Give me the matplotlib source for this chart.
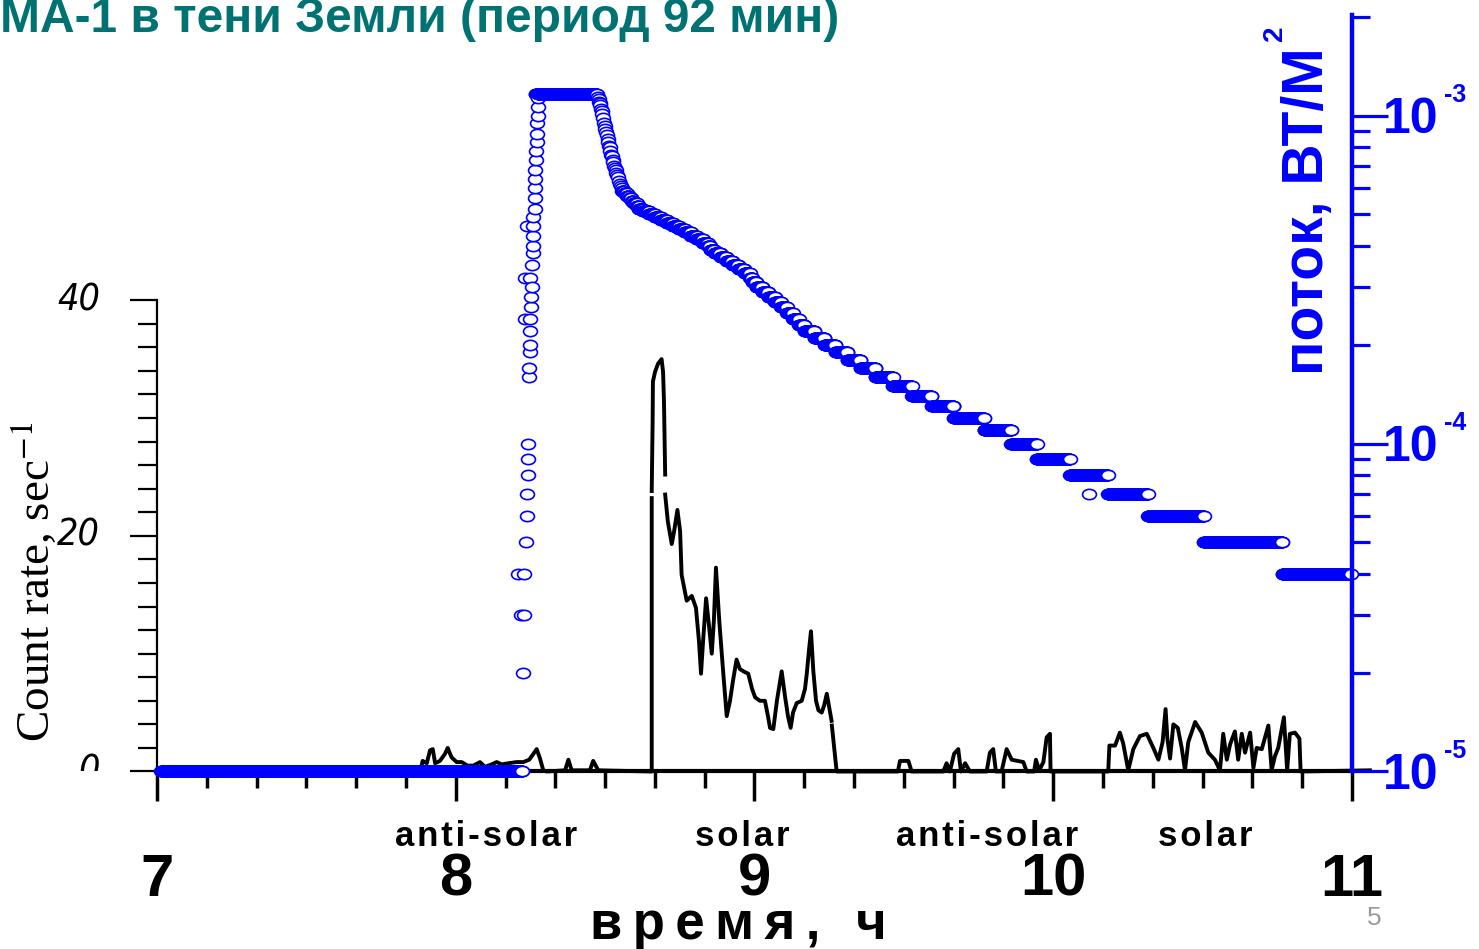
import numpy as np
import matplotlib
matplotlib.use("Agg")
import matplotlib.pyplot as plt
from matplotlib import font_manager
from matplotlib.path import Path
from matplotlib.ticker import FixedLocator, LogLocator, NullFormatter
from matplotlib.transforms import Affine2D, Bbox, TransformedBbox, blended_transform_factory

plt.rcParams["mathtext.fontset"] = "stix"

TEAL = "#007272"
BLUE = "#0000ff"
SANS = ["Liberation Sans", "DejaVu Sans"]

# pick a narrow sans for the count axis numbers if one is installed
_fonts = font_manager.fontManager.ttflist
if any(f.name == "Liberation Sans Narrow" for f in _fonts):
    NARROW = dict(family=["Liberation Sans Narrow", "DejaVu Sans"])
elif any(f.name == "DejaVu Sans" and f.stretch == "condensed" for f in _fonts):
    NARROW = dict(family=["DejaVu Sans"], fontstretch="condensed")
else:
    NARROW = dict(family=SANS)

# count rate trace: (time, h; counts per second); nan marks breaks in the trace
count_trace = [
    (7.000, 0.0), (7.883, 0.1), (7.889, 0.9), (7.903, 0.7), (7.914, 1.8), (7.923, 1.9),
    (7.931, 0.7), (7.947, 0.9), (7.964, 1.5), (7.973, 2.0), (7.986, 1.2), (8.003, 0.8),
    (8.020, 0.8), (8.039, 0.5), (8.059, 0.5), (8.081, 0.8), (8.098, 0.4), (8.120, 0.6),
    (8.137, 0.8), (8.154, 0.6), (8.176, 0.7), (8.204, 0.8), (8.226, 0.8), (8.246, 1.0),
    (8.260, 1.5), (8.271, 1.9), (8.282, 1.1), (8.293, 0.1), (8.304, 0.0), (8.366, 0.1),
    (8.377, 1.0), (8.388, 0.1), (8.449, 0.1), (8.460, 0.9), (8.477, 0.1), (8.656, 0.0),
    (8.656, 23.2), (8.656, np.nan), (8.656, 23.8), (8.659, 29.7), (8.660, 33.1),
    (8.667, 33.9), (8.677, 34.6), (8.689, 35.0), (8.694, 33.9), (8.697, 31.4),
    (8.701, 25.2), (8.701, np.nan), (8.701, 23.5), (8.710, 21.2), (8.723, 19.3),
    (8.731, 20.4), (8.742, 22.2), (8.751, 20.4), (8.756, 16.7), (8.773, 14.5),
    (8.790, 14.9), (8.804, 13.9), (8.814, 11.1), (8.821, 8.3), (8.828, 11.1),
    (8.838, 14.7), (8.848, 12.3), (8.857, 10.0), (8.864, 12.8), (8.871, 17.3),
    (8.882, 12.8), (8.895, 8.5), (8.907, 4.7), (8.918, 6.0), (8.928, 7.7), (8.940, 9.5),
    (8.951, 8.7), (8.963, 8.5), (8.979, 8.3), (8.992, 7.0), (9.002, 6.3), (9.018, 6.0),
    (9.035, 6.0), (9.045, 4.7), (9.052, 3.7), (9.063, 3.6), (9.075, 6.0), (9.091, 8.5),
    (9.102, 6.4), (9.112, 4.7), (9.121, 3.7), (9.129, 5.0), (9.141, 5.8), (9.158, 6.0),
    (9.169, 7.0), (9.175, 8.3), (9.182, 10.2), (9.189, 11.9), (9.197, 8.5), (9.206, 6.0),
    (9.214, 5.2), (9.225, 5.0), (9.233, 5.6), (9.242, 6.6), (9.249, 5.6), (9.258, 4.3),
    (9.258, np.nan), (9.259, 3.9), (9.266, 2.2), (9.275, 0.0), (9.480, 0.0), (9.487, 0.9),
    (9.515, 0.9), (9.526, 0.0), (9.632, 0.0), (9.643, 0.7), (9.654, 0.0), (9.668, 1.5),
    (9.682, 1.9), (9.691, 0.0), (9.705, 0.7), (9.721, 0.0), (9.777, 0.0), (9.788, 1.6),
    (9.799, 1.9), (9.808, 0.0), (9.827, 0.0), (9.844, 1.9), (9.861, 1.0), (9.900, 0.8),
    (9.911, 0.0), (9.936, 0.0), (9.942, 1.0), (9.953, 0.1), (9.967, 0.8), (9.978, 2.9),
    (9.989, 3.2), (9.991, 0.0), (10.184, 0.0), (10.188, 2.2), (10.207, 2.2), (10.223, 3.3),
    (10.234, 2.4), (10.251, 0.1), (10.268, 1.9), (10.290, 3.0), (10.313, 3.2), (10.335, 2.0),
    (10.352, 1.0), (10.366, 2.5), (10.376, 5.3), (10.382, 2.8), (10.391, 1.1), (10.402, 4.0),
    (10.417, 3.7), (10.430, 2.0), (10.441, 0.1), (10.452, 2.5), (10.475, 4.2), (10.497, 3.3),
    (10.519, 1.6), (10.541, 1.0), (10.558, 0.1), (10.569, 3.2), (10.581, 1.0), (10.592, 2.3),
    (10.608, 3.4), (10.619, 1.0), (10.631, 3.2), (10.642, 1.6), (10.659, 3.3), (10.670, 0.3),
    (10.681, 2.0), (10.698, 1.9), (10.720, 3.9), (10.731, 0.1), (10.742, 1.3), (10.753, 2.0),
    (10.772, 4.6), (10.783, 0.1), (10.792, 3.2), (10.809, 3.3), (10.824, 2.8), (10.828, 0.0),
    (11.060, 0.1),
]

# flux, in units of 1e-5 W/m^2; single samples (time, h; level)
flux_points = [
    (8.209, 4), (8.219, 3), (8.225, 2), (8.228, 3), (8.228, 4), (8.235, 5), (8.238, 6),
    (8.238, 7), (8.242, 8), (8.242, 9), (8.242, 10), (8.245, 16), (8.245, 17), (8.249, 19),
    (8.249, 20), (8.249, 22), (8.232, 24), (8.249, 24), (8.252, 26), (8.252, 28), (8.255, 30),
    (8.232, 32), (8.249, 32), (8.255, 35), (8.259, 38), (8.259, 40), (8.259, 43), (8.237, 46),
    (8.259, 46), (8.259, 49), (8.265, 52), (8.265, 56), (8.265, 60), (8.265, 64), (8.265, 68),
    (8.269, 73), (8.269, 78), (8.272, 83), (8.272, 88), (8.272, 95), (8.275, 100),
    (8.275, 106), (8.275, 113),
    (8.476, 114), (8.478, 112), (8.480, 110), (8.482, 109), (8.483, 108), (8.486, 105),
    (8.488, 103), (8.490, 101), (8.493, 98), (8.496, 95), (8.498, 93), (8.501, 91),
    (8.503, 89), (8.506, 87), (8.508, 85), (8.511, 83), (8.513, 81), (8.516, 80),
    (8.518, 78), (8.521, 76), (8.523, 75), (8.526, 73), (8.528, 72), (8.531, 70),
    (8.533, 69), (8.536, 68), (8.538, 67), (8.541, 66), (8.543, 65), (8.546, 63),
    (8.549, 62), (8.552, 61), (8.556, 60),
    (10.120, 7),
]

# flux held at one level (1e-5 W/m^2) from t0 to t1, sampled every SAMPLE_DT hours
SAMPLE_DT = 0.001
flux_runs = [
    (1, 7.015, 8.222), (116, 8.268, 8.472),
    (59, 8.558, 8.564), (58, 8.566, 8.572), (57, 8.574, 8.580), (56, 8.582, 8.588),
    (55, 8.590, 8.594), (54, 8.596, 8.606), (53, 8.608, 8.612), (52, 8.614, 8.626),
    (51, 8.628, 8.646), (50, 8.648, 8.666), (49, 8.668, 8.686), (48, 8.688, 8.706),
    (47, 8.708, 8.726), (46, 8.728, 8.746), (45, 8.748, 8.766), (44, 8.768, 8.786),
    (43, 8.788, 8.806), (42, 8.808, 8.826), (41, 8.828, 8.844), (40, 8.846, 8.852),
    (39, 8.854, 8.866), (38, 8.868, 8.886), (37, 8.888, 8.906), (36, 8.908, 8.926),
    (35, 8.928, 8.946), (34, 8.948, 8.966), (33, 8.968, 8.984), (32, 8.986, 8.992),
    (31, 8.994, 9.006), (30, 9.008, 9.026), (29, 9.028, 9.046), (28, 9.048, 9.068),
    (27, 9.070, 9.088), (26, 9.090, 9.108), (25, 9.110, 9.128), (24, 9.130, 9.148),
    (23, 9.150, 9.166), (22, 9.168, 9.200), (21, 9.202, 9.234), (20, 9.236, 9.270),
    (19, 9.272, 9.310), (18, 9.312, 9.354), (17, 9.356, 9.404), (16, 9.406, 9.462),
    (15, 9.464, 9.526), (14, 9.528, 9.592), (13, 9.594, 9.666), (12, 9.668, 9.768),
    (11, 9.770, 9.858), (10, 9.860, 9.944), (9, 9.946, 10.055), (8, 10.057, 10.182),
    (7, 10.184, 10.316), (6, 10.318, 10.503), (5, 10.505, 10.766), (4, 10.768, 10.995),
]

hour_ticks = [7, 8, 9, 10, 11]
count_ticks = [0, 20, 40]
flux_decades = [1e-5, 1e-4, 1e-3]
flux_exponents = ["-5", "-4", "-3"]
side_labels = ["anti-solar", "solar", "anti-solar", "solar"]
side_label_t = [8.10, 8.96, 9.78, 10.51]


def spaced(s, gap="\u2009"):
    return gap.join(s)


fig = plt.figure(figsize=(14.79, 9.49), dpi=100)
fig.patch.set_facecolor("white")
ax = fig.add_axes([0.10615, 0.18704, 0.80798, 0.79715])
axf = ax.twinx()

# --- count rate (left axis) ---
ct, cv = np.array(count_trace).T
ax.plot(ct, cv, color="black", lw=2.8, solid_joinstyle="round", clip_on=False, zorder=2)
ax.set_xlim(7, 11)
ax.set_ylim(0, 64.2)
ax.spines["top"].set_visible(False)
ax.spines["right"].set_visible(False)
ax.spines["left"].set_bounds(0, 40)
ax.spines["left"].set_linewidth(1.6)
ax.spines["bottom"].set_linewidth(3.0)

ax.set_xticks(hour_ticks)
ax.set_xticklabels([str(h) for h in hour_ticks], fontsize=43, fontweight="bold", family=SANS)
ax.xaxis.set_minor_locator(FixedLocator(np.arange(7, 11.001, 1 / 6)))
ax.tick_params(axis="x", which="major", direction="out", length=21.6, width=2.5, pad=37)
ax.tick_params(axis="x", which="minor", direction="out", length=12, width=2.5)

ax.set_yticks(count_ticks)
ax.yaxis.set_minor_locator(FixedLocator(np.arange(0, 41, 2)))
ax.tick_params(axis="y", which="major", direction="out", length=19.5, width=1.6, labelleft=False)
ax.tick_params(axis="y", which="minor", direction="out", length=14, width=1.6)
below_axis = TransformedBbox(Bbox([[0, 0.18704], [1, 1]]), fig.transFigure)
for v in count_ticks:
    lab = ax.annotate(str(v), xy=(0, v), xycoords=("axes fraction", "data"),
                      xytext=(-41, 0), textcoords="offset points", ha="right", va="center",
                      fontsize=27, style="italic", annotation_clip=False, **NARROW)
    if v == 0:
        lab.set_clip_box(below_axis)
        lab.set_clip_on(True)

# --- flux (right axis, log) ---
pts = np.array(flux_points, dtype=float)
run_t = [np.arange(t0, t1 + SAMPLE_DT / 2, SAMPLE_DT) for _, t0, t1 in flux_runs]
run_k = [np.full(len(t), k, dtype=float) for t, (k, _, _) in zip(run_t, flux_runs)]
ft = np.concatenate(run_t + [pts[:, 0]])
fk = np.concatenate(run_k + [pts[:, 1]])
order = np.argsort(ft, kind="stable")
ft, fk = ft[order], fk[order] * 1e-5

oval = Path.unit_circle().transformed(Affine2D().scale(1.0, 0.74))
axf.plot(ft, fk, ls="none", marker=oval, ms=10.0, mfc="white", mec=BLUE, mew=1.2,
         clip_on=False, zorder=2)
axf.set_yscale("log")
axf.set_ylim(1e-5, 2.025e-3)
for s in ["left", "top", "bottom"]:
    axf.spines[s].set_visible(False)
axf.spines["right"].set_color(BLUE)
axf.spines["right"].set_linewidth(3.2)
axf.yaxis.set_major_locator(FixedLocator(flux_decades))
axf.yaxis.set_minor_locator(LogLocator(base=10, subs=np.arange(2, 10), numticks=20))
axf.yaxis.set_minor_formatter(NullFormatter())
axf.tick_params(axis="y", which="major", colors=BLUE, length=26, width=2.3, labelright=False)
axf.tick_params(axis="y", which="minor", colors=BLUE, length=13, width=2.3, labelright=False)
for v, e in zip(flux_decades, flux_exponents):
    axf.annotate("10", xy=(1, v), xycoords=("axes fraction", "data"), xytext=(22, -12.9),
                 textcoords="offset points", ha="left", va="baseline", fontsize=36,
                 fontweight="bold", color=BLUE, family=SANS, annotation_clip=False)
    axf.annotate(e, xy=(1, v), xycoords=("axes fraction", "data"), xytext=(66, 9.4),
                 textcoords="offset points", ha="left", va="baseline", fontsize=18,
                 fontweight="bold", color=BLUE, family=SANS, annotation_clip=False)

# --- texts ---
below = blended_transform_factory(ax.transData, ax.transAxes)
for t, s in zip(side_label_t, side_labels):
    ax.text(t, -0.0985, spaced(s, "\u200a"), transform=below, ha="center", va="baseline",
            fontsize=25, fontweight="bold", family=SANS)

fig.text(0.0, 1 - 32 / 949, "МА-1 в тени Земли (период 92 мин)", ha="left", va="baseline",
         fontsize=34.5, fontweight="bold", color=TEAL, family=SANS)
fig.text(738 / 1479, 1 - 939 / 949, spaced("время, ч"), ha="center", va="baseline",
         fontsize=38, fontweight="bold", family=SANS)
fig.text(35 / 1479, 1 - 582 / 949, "Count rate, sec$^{-1}$", rotation=90, ha="center",
         va="center", fontsize=34, family="Liberation Serif")
fig.text(1323 / 1479, 1 - 375 / 949, "поток, ВТ/М", rotation=90, rotation_mode="anchor",
         ha="left", va="baseline", fontsize=41, fontweight="bold", color=BLUE, family=SANS)
fig.text(1282 / 1479, 1 - 41 / 949, "2", rotation=90, rotation_mode="anchor",
         ha="left", va="baseline", fontsize=20, fontweight="bold", color=BLUE, family=SANS)
fig.text(1374 / 1479, 1 - 925 / 949, "5", ha="center", va="baseline", fontsize=19,
         color="#9a9a9a", family=SANS)

fig.savefig("out.png", dpi=100, facecolor="white")
